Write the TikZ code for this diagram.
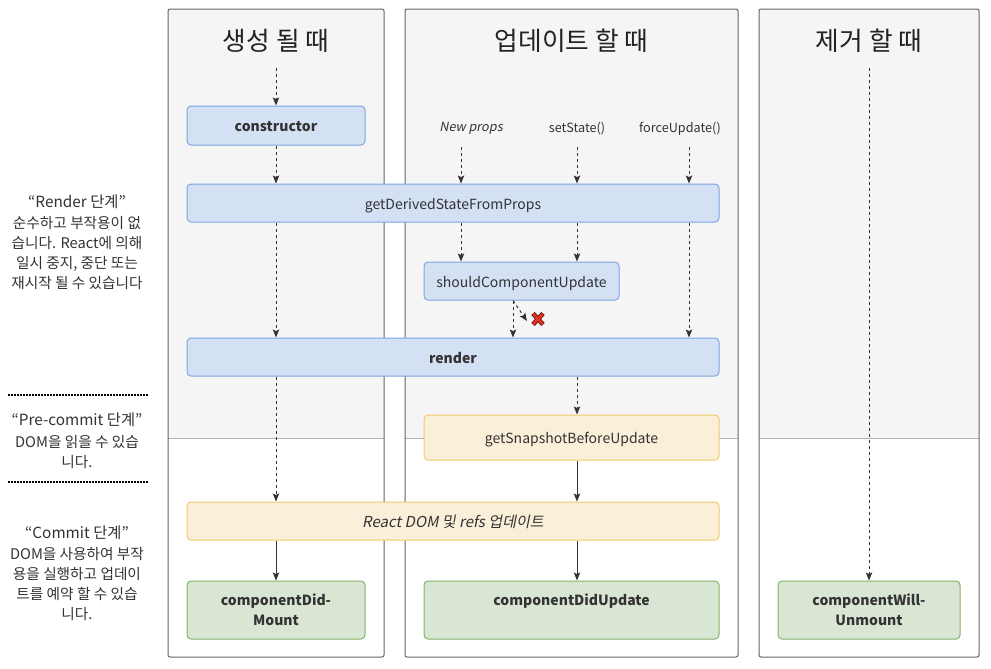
\documentclass[tikz,border=0pt]{standalone}
\usepackage{fontspec}
\setmainfont{Noto Sans CJK KR}[AutoFakeSlant=0.2]
\usetikzlibrary{arrows.meta}
\definecolor{txt}{HTML}{333333}
\definecolor{ttl}{HTML}{222222}
\definecolor{colborder}{HTML}{666666}
\definecolor{colfill}{HTML}{F5F5F5}
\definecolor{divider}{HTML}{B3B3B3}
\definecolor{bfill}{HTML}{D4E1F5}
\definecolor{bstroke}{HTML}{7EA6E0}
\definecolor{yfill}{HTML}{FAEFD8}
\definecolor{ystroke}{HTML}{F0CB6C}
\definecolor{gfill}{HTML}{D8E6D3}
\definecolor{gstroke}{HTML}{82B366}
\definecolor{arr}{HTML}{333333}
\definecolor{xred}{HTML}{E8301C}
\definecolor{xdark}{HTML}{5A1A14}
\newcommand\boxfont{\fontsize{10.5}{15}\selectfont}
\newcommand\ttlfont{\fontsize{19.3}{22}\selectfont}
\newcommand\sidettl{\fontsize{11.5}{15}\selectfont}
\newcommand\sidebody{\fontsize{11}{15}\selectfont}
\newcommand\lblfont{\fontsize{9.5}{12}\selectfont}
\tikzset{
  colbox/.style={draw=colborder, line width=0.75pt, rounded corners=1.5pt},
  base/.style={rounded corners=3pt, line width=0.75pt, text=txt, inner sep=0pt, align=center, font=\boxfont},
  oneline/.style={text height=10pt, text depth=1pt},
  bbox/.style={base, oneline, draw=bstroke, fill=bfill},
  ybox/.style={base, oneline, draw=ystroke, fill=yfill},
  gbox/.style={base, draw=gstroke, fill=gfill, font=\boxfont\bfseries},
  coltitle/.style={text=ttl, font=\ttlfont, inner sep=0pt},
  sidet/.style={text=txt, font=\sidettl, inner sep=0pt, align=center},
  sideb/.style={text=txt, font=\sidebody, inner sep=0pt, align=center},
  lbl/.style={text=txt, font=\lblfont, inner sep=0pt},
  arrowtip/.style={-{Stealth[length=6pt,width=4.8pt,inset=1.2pt]}},
  dasharrow/.style={draw=arr, line width=0.75pt, dash pattern=on 2.25pt off 2.25pt, arrowtip},
  solarrow/.style={draw=arr, line width=0.75pt, arrowtip},
  sepline/.style={draw=black, line width=1.6pt, dash pattern=on 1.5pt off 0.75pt},
}
\begin{document}
\begin{tikzpicture}[x=0.75pt,y=-0.75pt]
\useasboundingbox (0,0) rectangle (991,668);
\fill[white] (0,0) rectangle (991,668);
% columns
\foreach \a/\b in {168/384, 405/738, 759/979}{
  \fill[colfill, rounded corners=1.5pt] (\a,438) -- (\a,9) -- (\b,9) -- (\b,438) -- cycle;
  \draw[divider, line width=0.75pt] (\a,438) -- (\b,438);
  \draw[colbox] (\a,9) rectangle (\b,657);
}
% column titles
\node[coltitle] (t1) at (276,41) {생성 될 때};
\node[coltitle] (t2) at (571.5,41) {업데이트 할 때};
\node[coltitle] (t3) at (869,41) {제거 할 때};

% boxes
\node[bbox, minimum width=133.5pt, minimum height=29.25pt, font=\boxfont\bfseries] (ctor) at (276,125.5) {constructor};
\node[bbox, minimum width=399pt, minimum height=28.5pt] (gdsfp) at (453,203) {getDerivedStateFromProps};
\node[bbox, minimum width=146.25pt, minimum height=28.5pt] (scu) at (521.5,281) {shouldComponentUpdate};
\node[bbox, minimum width=399pt, minimum height=28.5pt, font=\boxfont\bfseries] (render) at (453,357) {render};
\node[ybox, minimum width=221.25pt, minimum height=33.75pt] (gsbu) at (571.5,437.5) {getSnapshotBeforeUpdate};
\node[ybox, minimum width=399pt, minimum height=28.5pt, font=\fontsize{11.3}{15}\selectfont\itshape] (rdom) at (453,521) {React DOM 및 refs 업데이트};
\node[gbox, minimum width=133.5pt, minimum height=43.5pt] (cdm) at (276,610) {componentDid-\\Mount};
\node[gbox, minimum width=221.25pt, minimum height=43.5pt] (cdu) at (571.5,610) {componentDidUpdate\\\vphantom{Mount}};
\node[gbox, minimum width=136.5pt, minimum height=43.5pt] (cwu) at (869,610) {componentWill-\\Unmount};

% labels column 2
\node[lbl, font=\lblfont\itshape] (np) at (471,128.5) {New props};
\node[lbl] (ss) at (577,128.5) {setState()};
\node[lbl] (fu) at (680,128.5) {forceUpdate()};

% start coordinates
\coordinate (s1) at (276,68);
\coordinate (s3) at (869,68);
\coordinate (sa) at (461,147);
\coordinate (sb) at (577,147);
\coordinate (sc) at (689,147);
\coordinate (xm) at (513,0);
\coordinate (xt) at (527,321);

% column 1 arrows
\draw[dasharrow] (s1) -- (ctor.north -| s1);
\draw[dasharrow] (ctor.south -| s1) -- (gdsfp.north -| s1);
\draw[dasharrow] (gdsfp.south -| s1) -- (render.north -| s1);
\draw[dasharrow] (render.south -| s1) -- (rdom.north -| s1);
\draw[solarrow] (rdom.south -| s1) -- (cdm.north -| s1);

% column 2 arrows
\draw[dasharrow] (sa) -- (gdsfp.north -| sa);
\draw[dasharrow] (sb) -- (gdsfp.north -| sb);
\draw[dasharrow] (sc) -- (gdsfp.north -| sc);
\draw[dasharrow] (gdsfp.south -| sa) -- (scu.north -| sa);
\draw[dasharrow] (gdsfp.south -| sb) -- (scu.north -| sb);
\draw[dasharrow] (gdsfp.south -| sc) -- (render.north -| sc);
\draw[dasharrow] (scu.south -| xm) -- (render.north -| xm);
\draw[dasharrow] (scu.south -| xm) -- (xt);
\draw[dasharrow] (render.south -| sb) -- (gsbu.north -| sb);
\draw[solarrow] (gsbu.south -| sb) -- (rdom.north -| sb);
\draw[solarrow] (rdom.south -| sb) -- (cdu.north -| sb);

% column 3 arrow
\draw[dasharrow] (s3) -- (cwu.north -| s3);

% red cross
\draw[xdark, line width=3.4pt] (533,313.5) -- (543,324.5) (543,313.5) -- (533,324.5);
\draw[xred, line width=2.1pt] (533.4,314) -- (542.6,324) (542.6,314) -- (533.4,324);

% side texts
\node[sidet] (r1) at (77,201.5) {“Render 단계”};
\node[sideb] (r2) at (77,253) {순수하고 부작용이 없\\습니다. React에 의해\\일시 중지, 중단 또는\\재시작 될 수 있습니다};
\coordinate (d1a) at (8,395);
\coordinate (d1b) at (148,395);
\draw[sepline] (d1a) -- (d1b);
\node[sidet] (p1) at (77,419.5) {“Pre-commit 단계”};
\node[sideb] (p2) at (77,452) {DOM을 읽을 수 있습\\니다.};
\coordinate (d2a) at (8,482);
\coordinate (d2b) at (148,482);
\draw[sepline] (d2a) -- (d2b);
\node[sidet] (c1) at (77,532.5) {“Commit 단계”};
\node[sideb] (c2) at (77,584.5) {DOM을 사용하여 부작\\용을 실행하고 업데이\\트를 예약 할 수 있습\\니다.};
\end{tikzpicture}
\end{document}
